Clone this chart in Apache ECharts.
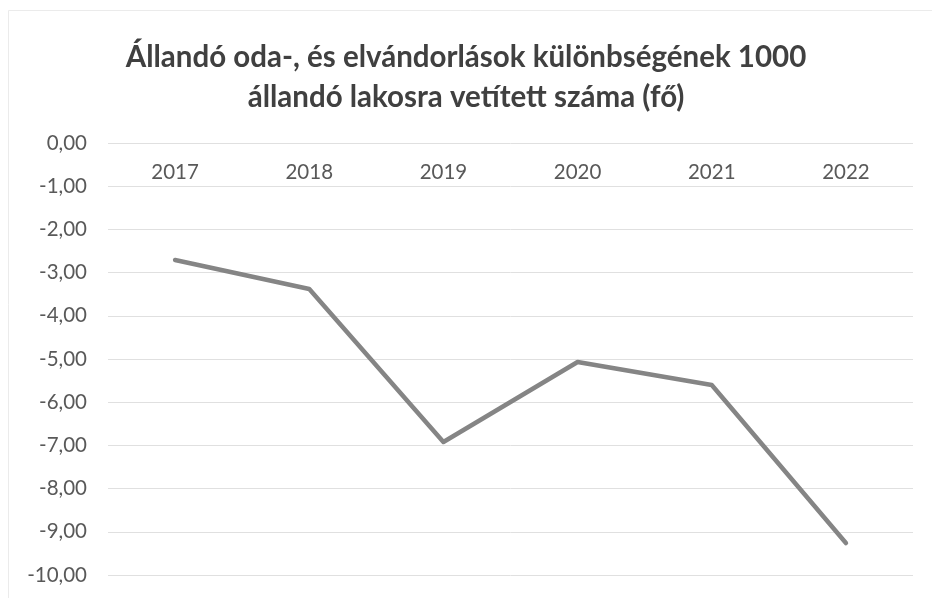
<!DOCTYPE html>
<html><head><meta charset="utf-8">
<script src="https://cdn.jsdelivr.net/npm/echarts@6/dist/echarts.min.js"></script>
<style>html,body{margin:0;padding:0;background:#fff}#c{width:932px;height:598px}</style>
</head><body><div id="c"></div>
<script>
const categories = ['2017','2018','2019','2020','2021','2022'];
const values = [-2.71, -3.38, -6.92, -5.07, -5.60, -9.26];
const titleText = 'Állandó oda-, és elvándorlások különbségének 1000\nállandó lakosra vetített száma (fő)';
const chart = echarts.init(document.getElementById('c'));
chart.setOption({
  backgroundColor: '#fff',
  animation: false,
  graphic: [{
    type: 'rect', shape: {x: 8.5, y: 10.5, width: 930, height: 600},
    style: {fill: 'none', stroke: '#ebebeb', lineWidth: 1}, silent: true
  }],
  title: {
    text: titleText, left: 'center', top: 32,
    textStyle: {fontFamily: 'Lato', fontWeight: 'bold', fontSize: 29.5, color: '#404040', lineHeight: 40}
  },
  grid: {left: 108, right: 19, top: 143, bottom: 23, containLabel: false},
  xAxis: {
    type: 'category', data: categories, position: 'top', boundaryGap: true,
    axisLine: {show: false}, axisTick: {show: false},
    axisLabel: {inside: true, margin: 19, fontFamily: 'Lato', fontSize: 20.5, color: '#595959'}
  },
  yAxis: {
    type: 'value', min: -10, max: 0, interval: 1,
    axisLine: {show: false}, axisTick: {show: false},
    splitLine: {lineStyle: {color: '#e0e0e0', width: 1}},
    axisLabel: {margin: 21, fontFamily: 'Lato', fontSize: 20.5, color: '#595959',
      formatter: v => v.toFixed(2).replace('.', ',')}
  },
  series: [{
    type: 'line', data: values, symbol: 'none',
    lineStyle: {color: '#858585', width: 4.5, cap: 'round', join: 'round'}
  }]
});
</script></body></html>
